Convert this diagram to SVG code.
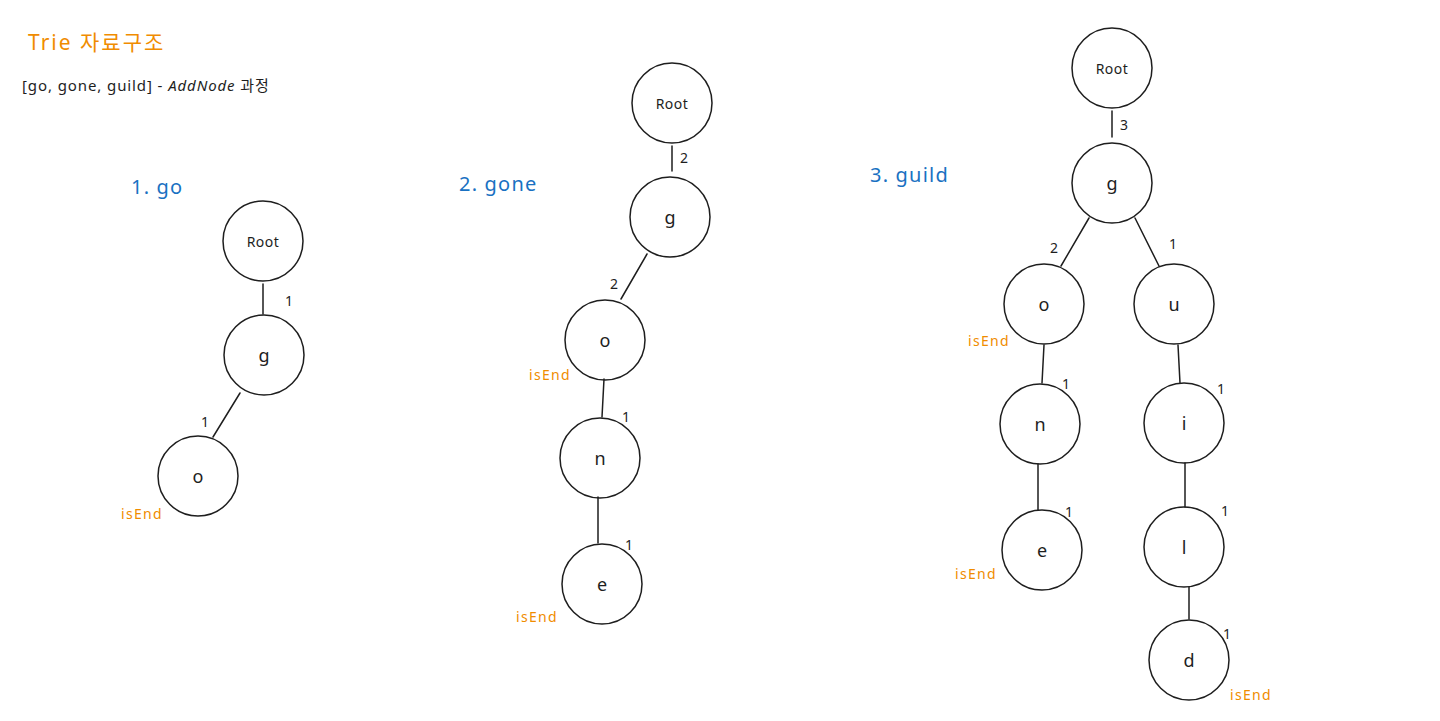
<svg xmlns="http://www.w3.org/2000/svg" width="1440" height="721" viewBox="0 0 1440 721">
<style>
.n circle{fill:none;stroke:#1e1e1e;stroke-width:1.5}
.n text{font-family:"Noto Sans","Liberation Sans",sans-serif;font-size:18px;fill:#1e1e1e;text-anchor:middle;dominant-baseline:central}
.n text.r{font-size:14px;letter-spacing:0.5px}
.e line{stroke:#1e1e1e;stroke-width:1.5;stroke-linecap:round}
.lbl{font-family:"Noto Sans","Liberation Sans",sans-serif;font-size:14px;fill:#1e1e1e}
.end{font-family:"Noto Sans","Liberation Sans",sans-serif;font-size:14px;fill:#f08c00;letter-spacing:1.3px}
.hd{font-family:"Noto Sans","Liberation Sans",sans-serif;font-size:20px;fill:#1971c2;letter-spacing:1.2px}
</style>
<rect width="1440" height="721" fill="#ffffff"/>
<text x="28" y="50" font-family="'Noto Sans','Noto Sans CJK KR',sans-serif" font-size="21" letter-spacing="2" fill="#f08c00">Trie 자료구조</text>
<text x="22" y="91" font-family="'Noto Sans','Noto Sans CJK KR',sans-serif" font-size="15" letter-spacing="0.9" fill="#1e1e1e">[go, gone, guild] - <tspan font-style="italic">AddNode</tspan> 과정</text>
<text class="hd" x="131" y="194">1. go</text>
<text class="hd" x="459" y="191">2. gone</text>
<text class="hd" x="870" y="182">3. guild</text>
<g id="connectors" class="e">
<line x1="263" y1="284" x2="263" y2="314"/>
<line x1="240" y1="393" x2="213" y2="437"/>
<line x1="672" y1="146" x2="672" y2="171"/>
<line x1="647" y1="254" x2="621" y2="299"/>
<line x1="604" y1="379" x2="602" y2="417"/>
<line x1="598" y1="497" x2="598" y2="543"/>
<line x1="1112" y1="111" x2="1112" y2="137"/>
<line x1="1089" y1="218" x2="1061" y2="266"/>
<line x1="1135" y1="218" x2="1159" y2="266"/>
<line x1="1044" y1="345" x2="1042" y2="383"/>
<line x1="1038" y1="464" x2="1038" y2="510"/>
<line x1="1178" y1="345" x2="1180" y2="383"/>
<line x1="1185" y1="463" x2="1185" y2="507"/>
<line x1="1189" y1="587" x2="1189" y2="619"/>
</g>
<g id="edge-labels" class="lbl">
<text x="285" y="306">1</text>
<text x="201" y="427">1</text>
<text x="680" y="163">2</text>
<text x="610" y="289">2</text>
<text x="622" y="422">1</text>
<text x="625" y="550">1</text>
<text x="1120" y="130">3</text>
<text x="1050" y="253">2</text>
<text x="1169" y="249">1</text>
<text x="1062" y="389">1</text>
<text x="1065" y="517">1</text>
<text x="1217" y="394">1</text>
<text x="1221" y="516">1</text>
<text x="1223" y="639">1</text>
</g>
<g id="d1-root" class="n"><circle cx="263" cy="241" r="40"/><text class="r" x="263" y="241">Root</text></g>
<g id="d1-g" class="n"><circle cx="264" cy="355" r="40"/><text x="264" y="355">g</text></g>
<g id="d1-o" class="n"><circle cx="198" cy="476" r="40"/><text x="198" y="476">o</text></g>
<g id="d2-root" class="n"><circle cx="672" cy="103" r="40"/><text class="r" x="672" y="103">Root</text></g>
<g id="d2-g" class="n"><circle cx="670" cy="217" r="40"/><text x="670" y="217">g</text></g>
<g id="d2-o" class="n"><circle cx="605" cy="340" r="40"/><text x="605" y="340">o</text></g>
<g id="d2-n" class="n"><circle cx="600" cy="458" r="40"/><text x="600" y="458">n</text></g>
<g id="d2-e" class="n"><circle cx="602" cy="584" r="40"/><text x="602" y="584">e</text></g>
<g id="d3-root" class="n"><circle cx="1112" cy="68" r="40"/><text class="r" x="1112" y="68">Root</text></g>
<g id="d3-g" class="n"><circle cx="1112" cy="183" r="40"/><text x="1112" y="183">g</text></g>
<g id="d3-o" class="n"><circle cx="1044" cy="304" r="40"/><text x="1044" y="304">o</text></g>
<g id="d3-u" class="n"><circle cx="1174" cy="304" r="40"/><text x="1174" y="304">u</text></g>
<g id="d3-n" class="n"><circle cx="1040" cy="424" r="40"/><text x="1040" y="424">n</text></g>
<g id="d3-e" class="n"><circle cx="1042" cy="550" r="40"/><text x="1042" y="550">e</text></g>
<g id="d3-i" class="n"><circle cx="1184" cy="423" r="40"/><text x="1184" y="423">i</text></g>
<g id="d3-l" class="n"><circle cx="1184" cy="547" r="40"/><text x="1184" y="547">l</text></g>
<g id="d3-d" class="n"><circle cx="1189" cy="660" r="40"/><text x="1189" y="660">d</text></g>
<g id="isend-labels" class="end">
<text x="121" y="519">isEnd</text>
<text x="529" y="380">isEnd</text>
<text x="516" y="622">isEnd</text>
<text x="968" y="346">isEnd</text>
<text x="955" y="579">isEnd</text>
<text x="1230" y="700">isEnd</text>
</g>
</svg>
